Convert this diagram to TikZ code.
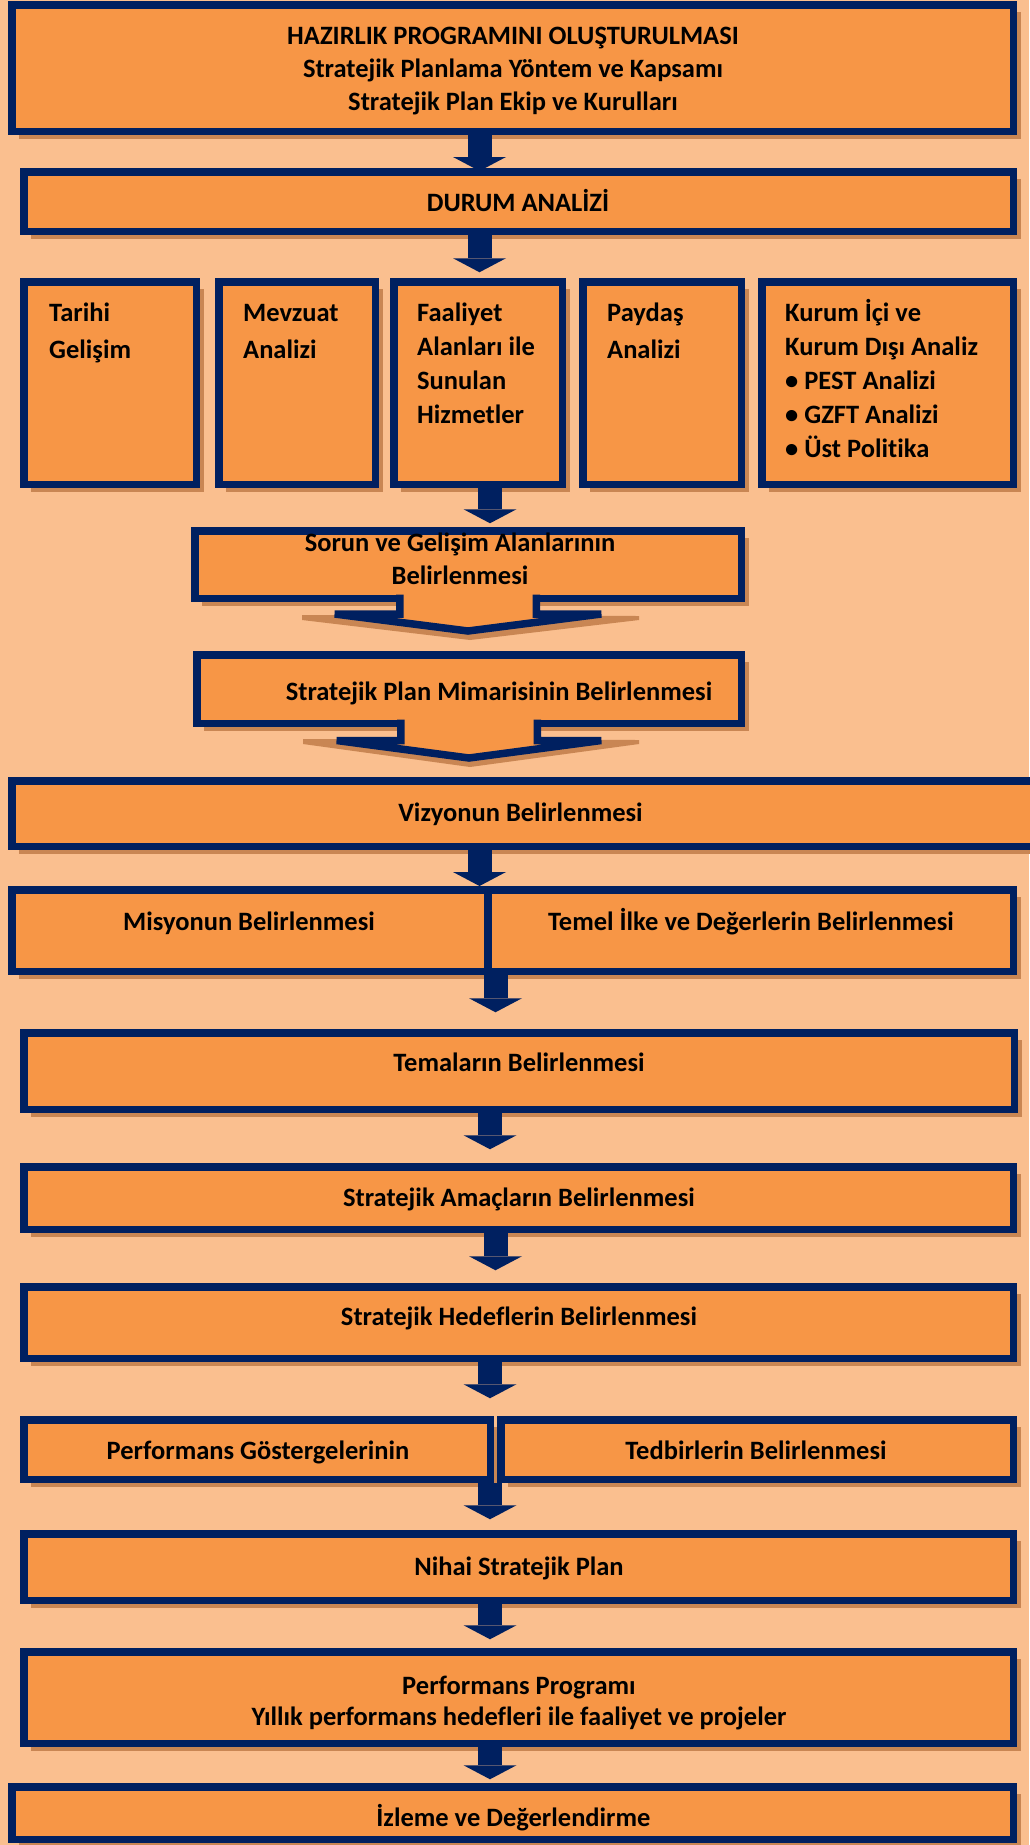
\documentclass[tikz,border=0pt]{standalone}
\usepackage{fontspec}
\setmainfont{Carlito}[Ligatures=NoCommon]
\usetikzlibrary{arrows.meta}
\usetikzlibrary{shadows}

\definecolor{zemin}{HTML}{FABF8F}
\definecolor{turuncu}{HTML}{F79646}
\definecolor{lacivert}{HTML}{002060}
\definecolor{golge}{HTML}{C98653}

\begin{document}
\begin{tikzpicture}[x=1pt, y=-1pt,
    kutu/.style={draw=lacivert, fill=turuncu, line width=7.5pt, inner sep=0pt,
        drop shadow={shadow xshift=7.5pt, shadow yshift=-7.5pt, fill=golge, opacity=1}},
    yazi/.style={font=\fontsize{26.5}{33}\selectfont\bfseries, inner sep=0pt, anchor=base},
    solyazi/.style={font=\fontsize{26.5}{34}\selectfont\bfseries, inner sep=0pt, anchor=base west},
    ok/.style={draw=lacivert, line width=24pt, -{Triangle[width=53pt, length=14pt, line width=0pt]}},
    kuyruk/.style={draw=lacivert, line width=7.5pt}]

			\useasboundingbox (0,0) rectangle (1029,1845);
			\fill[zemin] (0,0) rectangle (1029,1845);

			\coordinate (sol) at (479.5,0);
			\coordinate (orta) at (490,0);
			\coordinate (sag) at (495.5,0);

			\node[kutu, minimum width=1001.5pt, minimum height=126.5pt] (hazirlik) at (512.5,68) {};
			\node[yazi] (hazirlik-y) at (513,44) {\begin{tabular}[t]{@{}c@{}}HAZIRLIK PROGRAMINI OLUŞTURULMASI\\Stratejik Planlama Yöntem ve Kapsamı\\Stratejik Plan Ekip ve Kurulları\end{tabular}};

			\node[kutu, minimum width=989.5pt, minimum height=59.5pt] (durum) at (518.5,201.5) {};
			\node[yazi] (durum-y) at (518,211) {DURUM ANALİZİ};

			\node[kutu, minimum width=172.5pt, minimum height=202.5pt] (tarihi) at (110,383) {};
			\node[kutu, minimum width=156.5pt, minimum height=202.5pt] (mevzuat) at (297,383) {};
			\node[kutu, minimum width=168.5pt, minimum height=202.5pt] (faaliyet) at (478,383) {};
			\node[kutu, minimum width=158.5pt, minimum height=202.5pt] (paydas) at (662,383) {};
			\node[kutu, minimum width=251.5pt, minimum height=202.5pt] (kurum) at (887.5,383) {};

			\node[solyazi, font=\fontsize{26.5}{37}\selectfont\bfseries] (tarihi-y) at (49,321) {\begin{tabular}[t]{@{}l@{}}Tarihi\\Gelişim\end{tabular}};
			\node[solyazi, font=\fontsize{26.5}{37}\selectfont\bfseries] (mevzuat-y) at (243,321) {\begin{tabular}[t]{@{}l@{}}Mevzuat\\Analizi\end{tabular}};
			\node[solyazi] (faaliyet-y) at (417,321) {\begin{tabular}[t]{@{}l@{}}Faaliyet\\Alanları ile\\Sunulan\\Hizmetler\end{tabular}};
			\node[solyazi, font=\fontsize{26.5}{37}\selectfont\bfseries] (paydas-y) at (607,321) {\begin{tabular}[t]{@{}l@{}}Paydaş\\Analizi\end{tabular}};
			\node[solyazi] (kurum-y) at (785,321) {\begin{tabular}[t]{@{}l@{}}Kurum İçi ve\\Kurum Dışı Analiz\\• PEST Analizi\\• GZFT Analizi\\• Üst Politika\end{tabular}};

			\node[kutu, minimum width=546.5pt, minimum height=67.5pt] (sorun) at (468,564.5) {};
			\fill[golge] (302,615) -- (639,616) -- (639,620) -- (470,640) -- (302,620) -- cycle;
			\fill[turuncu] (399.75,594) -- (399.75,614) -- (334.75,614) -- (468,631) -- (601.25,614) -- (536.25,614) -- (536.25,594) -- cycle;
			\path[kuyruk] (399.75,594.5) -- (399.75,614) -- (334.75,614) -- (468,631) -- (601.25,614) -- (536.25,614) -- (536.25,594.5);
			\node[yazi] (sorun-y) at (460,551) {\begin{tabular}[t]{@{}c@{}}Sorun ve Gelişim Alanlarının\\Belirlenmesi\end{tabular}};

			\node[kutu, minimum width=544.5pt, minimum height=68.5pt] (mimari) at (469,689) {};
			\fill[golge] (303,739) -- (639,740) -- (639,744) -- (470,767) -- (303,744) -- cycle;
			\fill[turuncu] (400.75,719) -- (400.75,740.5) -- (336.75,740.5) -- (469,758) -- (601.25,740.5) -- (537.25,740.5) -- (537.25,719) -- cycle;
			\path[kuyruk] (400.75,719.5) -- (400.75,740.5) -- (336.75,740.5) -- (469,758) -- (601.25,740.5) -- (537.25,740.5) -- (537.25,719.5);
			\node[yazi] (mimari-y) at (499,700) {Stratejik Plan Mimarisinin Belirlenmesi};

			\node[kutu, minimum width=1029.5pt, minimum height=65.5pt] (vizyon) at (526.5,813.5) {};
			\node[yazi] (vizyon-y) at (520.5,821) {Vizyonun Belirlenmesi};

			\node[kutu, minimum width=476.5pt, minimum height=81.5pt] (misyon) at (250,930.5) {};
			\node[kutu, minimum width=525.5pt, minimum height=81.5pt] (temel) at (750.5,930.5) {};
			\node[yazi] (misyon-y) at (249,930) {Misyonun Belirlenmesi};
			\node[yazi] (temel-y) at (751,930) {Temel İlke ve Değerlerin Belirlenmesi};

			\node[kutu, minimum width=990.5pt, minimum height=76.5pt] (temalar) at (519,1071) {};
			\node[yazi] (temalar-y) at (519,1071.5) {Temaların Belirlenmesi};

			\node[kutu, minimum width=989.5pt, minimum height=62.5pt] (amac) at (518.5,1198) {};
			\node[yazi] (amac-y) at (519,1206) {Stratejik Amaçların Belirlenmesi};

			\node[kutu, minimum width=989.5pt, minimum height=71.5pt] (hedef) at (518.5,1322.5) {};
			\node[yazi] (hedef-y) at (519,1325) {Stratejik Hedeflerin Belirlenmesi};

			\node[kutu, minimum width=466.5pt, minimum height=59.5pt] (gosterge) at (257,1449.5) {};
			\node[kutu, minimum width=512.5pt, minimum height=59.5pt] (tedbir) at (757,1449.5) {};
			\node[yazi] (gosterge-y) at (258,1459) {Performans Göstergelerinin};
			\node[yazi] (tedbir-y) at (756,1459) {Tedbirlerin Belirlenmesi};

			\node[kutu, minimum width=989.5pt, minimum height=66.5pt] (nihai) at (518.5,1567) {};
			\node[yazi] (nihai-y) at (519,1575) {Nihai Stratejik Plan};

			\node[kutu, minimum width=989.5pt, minimum height=91.5pt] (perfprog) at (518.5,1697.5) {};
			\node[yazi, font=\fontsize{26.5}{31}\selectfont\bfseries] (perfprog-y) at (519,1694) {\begin{tabular}[t]{@{}c@{}}Performans Programı\\Yıllık performans hedefleri ile faaliyet ve projeler\end{tabular}};

			\node[kutu, minimum width=1001.5pt, minimum height=52.5pt] (izleme) at (512.5,1813) {};
			\node[yazi] (izleme-y) at (513.5,1826) {İzleme ve Değerlendirme};

			\path[ok, shorten >=-3pt] (hazirlik.south -| sol) -- (durum.north -| sol);
			\path[ok, shorten >=5.75pt] (durum.south -| sol) -- (faaliyet.north -| sol);
			\path[ok, shorten >=3.75pt] (faaliyet.south -| orta) -- (sorun.north -| orta);
			\path[ok] (vizyon.south -| sol) -- (misyon.north -| sol);
			\path[ok, shorten >=16.75pt] (misyon.south -| sag) -- (temalar.north -| sag);
			\path[ok, shorten >=13.75pt] (temalar.south -| orta) -- (amac.north -| orta);
			\path[ok, shorten >=12.75pt] (amac.south -| sag) -- (hedef.north -| sag);
			\path[ok, shorten >=17.75pt] (hedef.south -| orta) -- (gosterge.north -| orta);
			\path[ok, shorten >=10.75pt] (gosterge.south -| orta) -- (nihai.north -| orta);
			\path[ok, shorten >=8.75pt] (nihai.south -| orta) -- (perfprog.north -| orta);
			\path[ok, shorten >=3.75pt] (perfprog.south -| orta) -- (izleme.north -| orta);
        \end{tikzpicture}
\end{document}
